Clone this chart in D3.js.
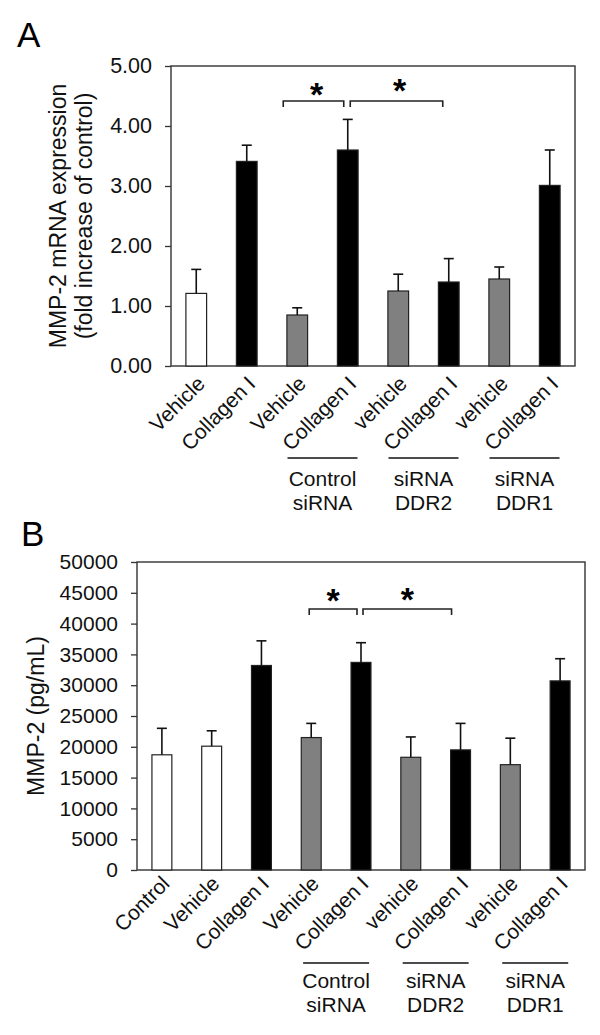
<!DOCTYPE html>
<html>
<head>
<meta charset="utf-8">
<script src="https://cdn.jsdelivr.net/npm/d3@7"></script>
<style>
body { margin: 0; background: #fff; }
svg { display: block; font-family: Arial, "Liberation Sans", sans-serif; }
</style>
</head>
<body>
<svg id="chart" width="600" height="1035"></svg>
<script>
// ---- Panel A data ----
const categoriesA = ["Vehicle", "Collagen I", "Vehicle", "Collagen I", "vehicle", "Collagen I", "vehicle", "Collagen I"];
const meansA = [1.21, 3.41, 0.85, 3.60, 1.25, 1.40, 1.45, 3.01];
const errorsA = [0.40, 0.27, 0.12, 0.51, 0.28, 0.39, 0.20, 0.59];
const fillTypesA = ["white", "black", "gray", "black", "gray", "black", "gray", "black"];
const ticksA = [0, 1, 2, 3, 4, 5];
const groupStartA = [2, 4, 6];

// ---- Panel B data ----
const categoriesB = ["Control", "Vehicle", "Collagen I", "Vehicle", "Collagen I", "vehicle", "Collagen I", "vehicle", "Collagen I"];
const meansB = [18700, 20100, 33200, 21500, 33700, 18300, 19500, 17100, 30700];
const errorsB = [4300, 2500, 4000, 2300, 3200, 3300, 4300, 4300, 3600];
const fillTypesB = ["white", "white", "black", "gray", "black", "gray", "black", "gray", "black"];
const ticksB = [0, 5000, 10000, 15000, 20000, 25000, 30000, 35000, 40000, 45000, 50000];
const groupStartB = [3, 5, 7];

const groupLabels = [["Control", "siRNA"], ["siRNA", "DDR2"], ["siRNA", "DDR1"]];

const colorMap = { white: "#ffffff", black: "#000000", gray: "#808080" };

const svg = d3.select("#chart");

function panel(cfg) {
  const g = svg.append("g");
  const x = d3.scaleBand().domain(d3.range(cfg.cats.length)).range([cfg.left, cfg.right]).padding(0);
  const y = d3.scaleLinear().domain(cfg.domain).range([cfg.bottom, cfg.top]);
  const bw = x.bandwidth() * cfg.barFrac;
  const cx = i => x(i) + x.bandwidth() / 2;

  // panel letter
  g.append("text").attr("x", cfg.letterX).attr("y", cfg.letterY)
    .attr("font-size", 35).text(cfg.letter);

  // y axis
  const yAxis = d3.axisLeft(y).tickValues(cfg.ticks).tickFormat(cfg.fmt).tickSize(6).tickPadding(13);
  const ya = g.append("g").attr("transform", `translate(${cfg.left},0)`).call(yAxis);
  ya.select(".domain").remove();
  ya.selectAll(".tick line").attr("stroke", "#333").attr("stroke-width", 1.3);
  ya.selectAll(".tick text").attr("font-size", cfg.tickFont).attr("fill", "#111")
    .attr("font-family", "Arial, 'Liberation Sans', sans-serif");

  // frame
  g.append("rect").attr("x", cfg.left).attr("y", cfg.top)
    .attr("width", cfg.right - cfg.left).attr("height", cfg.bottom - cfg.top)
    .attr("fill", "none").attr("stroke", "#333").attr("stroke-width", 1.4);

  // bars
  g.selectAll(".bar").data(cfg.means).enter().append("rect")
    .attr("x", (d, i) => cx(i) - bw / 2)
    .attr("y", d => y(d))
    .attr("width", bw)
    .attr("height", d => cfg.bottom - y(d))
    .attr("fill", (d, i) => colorMap[cfg.fills[i]])
    .attr("stroke", "#222").attr("stroke-width", 1.2);

  // error bars (upper only)
  const eb = g.selectAll(".err").data(cfg.means).enter().append("g");
  eb.append("line")
    .attr("x1", (d, i) => cx(i)).attr("x2", (d, i) => cx(i))
    .attr("y1", d => y(d)).attr("y2", (d, i) => y(d + cfg.errs[i]))
    .attr("stroke", "#111").attr("stroke-width", 1.6);
  eb.append("line")
    .attr("x1", (d, i) => cx(i) - 5).attr("x2", (d, i) => cx(i) + 5)
    .attr("y1", (d, i) => y(d + cfg.errs[i])).attr("y2", (d, i) => y(d + cfg.errs[i]))
    .attr("stroke", "#111").attr("stroke-width", 1.6);

  // y-axis title
  const t = g.append("text").attr("font-size", 23).attr("text-anchor", "middle").attr("fill", "#111")
    .attr("transform", `translate(${cfg.titleX},${(cfg.top + cfg.bottom) / 2}) rotate(-90)`);
  cfg.title.forEach((line, k) => {
    t.append("tspan").attr("x", 0).attr("dy", k === 0 ? 0 : 26).text(line);
  });

  // rotated x labels
  g.selectAll(".xl").data(cfg.cats).enter().append("text")
    .attr("font-size", 21).attr("text-anchor", "end").attr("fill", "#111")
    .attr("transform", (d, i) => `translate(${cx(i) + cfg.lblDx},${cfg.bottom + cfg.lblDy}) rotate(-45)`)
    .text(d => d);

  // group lines and labels
  cfg.groupStart.forEach((s, k) => {
    const mid = (cx(s) + cx(s + 1)) / 2;
    g.append("line").attr("x1", mid - cfg.grpHalf).attr("x2", mid + cfg.grpHalf)
      .attr("y1", cfg.grpLineY).attr("y2", cfg.grpLineY)
      .attr("stroke", "#111").attr("stroke-width", 1.6);
    groupLabels[k].forEach((line, j) => {
      g.append("text").attr("x", mid).attr("y", cfg.grpTextY + j * 24)
        .attr("text-anchor", "middle").attr("font-size", 21).attr("fill", "#111").text(line);
    });
  });

  // significance brackets
  cfg.brackets.forEach(b => {
    const x1 = cx(b.a) + b.da, x2 = cx(b.b) + b.db;
    g.append("path")
      .attr("d", `M${x1},${b.y + 6}V${b.y}H${x2}V${b.y + 6}`)
      .attr("fill", "none").attr("stroke", "#222").attr("stroke-width", 1.6);
    g.append("text").attr("x", (x1 + x2) / 2 + b.sdx).attr("y", b.sy)
      .attr("text-anchor", "middle").attr("font-size", 34).attr("font-weight", "bold").text("*");
  });
}

panel({
  letter: "A", letterX: 17, letterY: 47,
  cats: categoriesA, means: meansA, errs: errorsA, fills: fillTypesA,
  domain: [0, 5], ticks: ticksA, fmt: d3.format(".2f"), tickFont: 21.5,
  left: 171, right: 575, top: 66, bottom: 366, barFrac: 0.41,
  title: ["MMP-2 mRNA expression", "(fold increase of control)"], titleX: 66,
  lblDx: 10, lblDy: 19,
  groupStart: groupStartA, grpHalf: 35, grpLineY: 458, grpTextY: 486,
  brackets: [
    { a: 2, da: -14, b: 3, db: -4, y: 101, sdx: 3, sy: 106 },
    { a: 3, da: 2.5, b: 5, db: -6, y: 101, sdx: 3, sy: 102 }
  ]
});

panel({
  letter: "B", letterX: 21, letterY: 546,
  cats: categoriesB, means: meansB, errs: errorsB, fills: fillTypesB,
  domain: [0, 50000], ticks: ticksB, fmt: d3.format("d"), tickFont: 21,
  left: 137, right: 585, top: 562, bottom: 870, barFrac: 0.40,
  title: ["MMP-2 (pg/mL)"], titleX: 44,
  lblDx: 9, lblDy: 15,
  groupStart: groupStartB, grpHalf: 33, grpLineY: 963, grpTextY: 988,
  brackets: [
    { a: 3, da: -2, b: 4, db: -4, y: 609, sdx: 0, sy: 612 },
    { a: 4, da: 2, b: 6, db: -9, y: 609, sdx: 0, sy: 611 }
  ]
});
</script>
</body>
</html>
